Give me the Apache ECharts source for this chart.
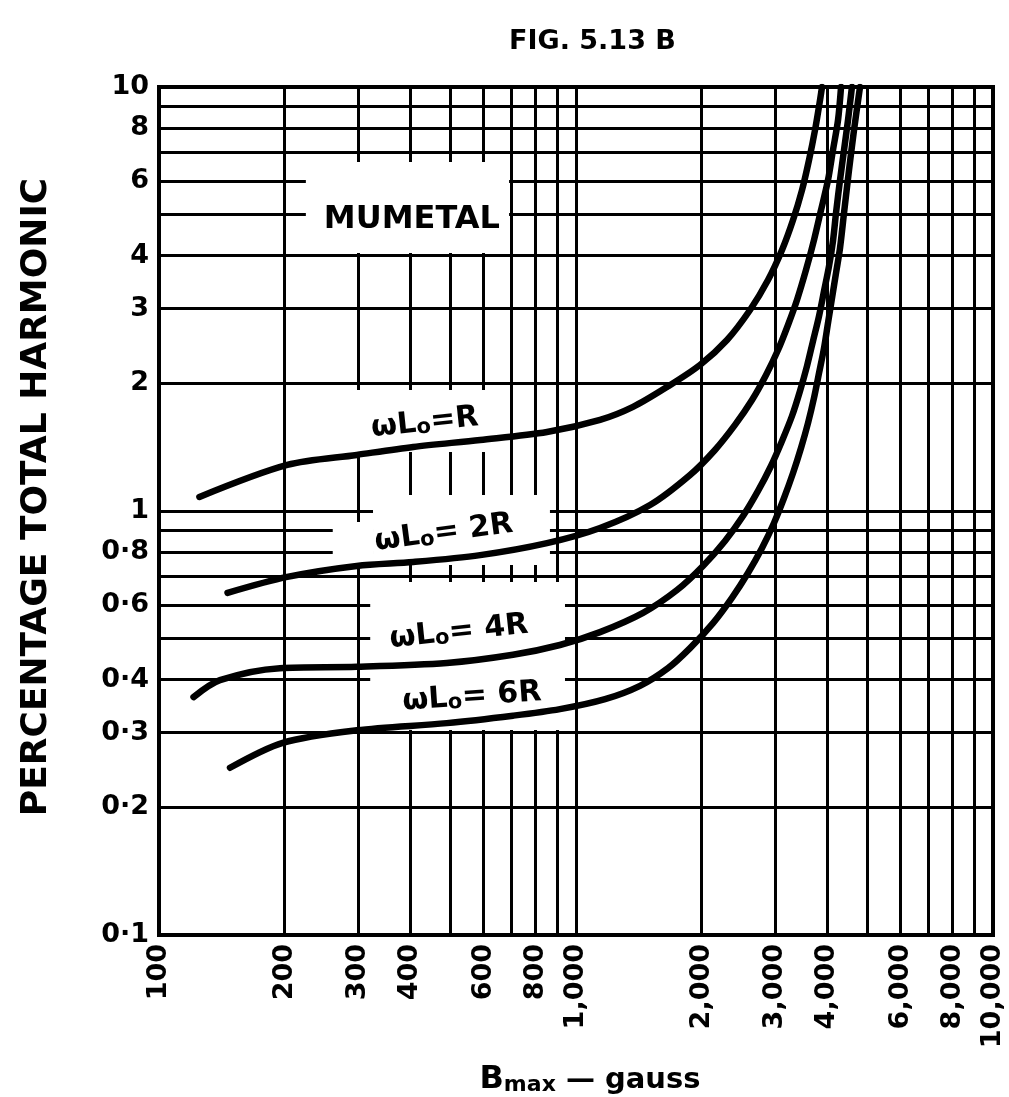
<!DOCTYPE html>
<html>
<head>
<meta charset="utf-8">
<script src="https://cdn.jsdelivr.net/npm/echarts@6/dist/echarts.min.js"></script>
<style>
html,body{margin:0;padding:0;background:#fff;}
#chart{width:1009px;height:1097px;}
</style>
</head>
<body>
<div id="chart"></div>
<script>
// ---------------- data ----------------
const gaussTicks = [100,200,300,400,500,600,700,800,900,1000,2000,3000,4000,5000,6000,7000,8000,9000,10000];
const gaussLabels = [100,200,300,400,600,800,1000,2000,3000,4000,6000,8000,10000];
const pctTicks = [0.1,0.2,0.3,0.4,0.5,0.6,0.7,0.8,0.9,1,2,3,4,5,6,7,8,9,10];
const pctLabels = [0.1,0.2,0.3,0.4,0.6,0.8,1,2,3,4,6,8,10];

const curveNames = ['ωLo=R','ωLo=2R','ωLo=4R','ωLo=6R'];

const gaussR  = [125, 203, 298, 407, 589, 852, 1142, 1370, 1653, 1983, 2302, 2614, 2887, 3119, 3315, 3484, 3621, 3743, 3848, 3890];
const pctR    = [1.079, 1.284, 1.356, 1.416, 1.471, 1.536, 1.640, 1.760, 1.961, 2.210, 2.531, 2.979, 3.506, 4.127, 4.857, 5.716, 6.728, 7.918, 9.318, 10];

const gauss2R = [146, 203, 298, 407, 589, 852, 1142, 1505, 1877, 2154, 2406, 2643, 2856, 3051, 3224, 3388, 3561, 3722, 3869, 4021, 4133, 4250, 4321];
const pct2R   = [0.641, 0.699, 0.742, 0.758, 0.787, 0.840, 0.912, 1.033, 1.216, 1.393, 1.596, 1.827, 2.093, 2.397, 2.746, 3.145, 3.702, 4.357, 5.127, 6.035, 7.103, 8.359, 10];

const gauss4R = [121, 140, 195, 298, 490, 706, 915, 1142, 1448, 1747, 2016, 2277, 2515, 2732, 2935, 3119, 3296, 3445, 3581, 3702, 3827, 3934, 4044, 4133, 4203, 4297, 4393, 4491, 4589];
const pct4R   = [0.364, 0.399, 0.426, 0.429, 0.438, 0.458, 0.483, 0.518, 0.575, 0.651, 0.742, 0.850, 0.973, 1.115, 1.277, 1.463, 1.675, 1.919, 2.198, 2.518, 2.884, 3.303, 3.783, 4.334, 5.045, 6.035, 7.103, 8.359, 10];

const gauss6R = [148, 198, 298, 490, 706, 915, 1174, 1424, 1662, 1877, 2131, 2366, 2585, 2793, 2984, 3154, 3315, 3464, 3601, 3722, 3827, 3934, 4021, 4111, 4203, 4297, 4393, 4516, 4642, 4798];
const pct6R   = [0.248, 0.284, 0.304, 0.316, 0.329, 0.341, 0.360, 0.387, 0.426, 0.475, 0.544, 0.624, 0.714, 0.818, 0.937, 1.073, 1.229, 1.408, 1.613, 1.848, 2.116, 2.424, 2.777, 3.179, 3.642, 4.172, 5.045, 6.372, 7.918, 10];

const curveGauss = [gaussR, gauss2R, gauss4R, gauss6R];
const curvePct = [pctR, pct2R, pct4R, pct6R];

// ---------------- layout / style ----------------
const FONT = 'DejaVu Sans';
const INK = '#000';

const fmtGauss = v => String(Math.round(v)).replace(/\B(?=(\d{3})+(?!\d))/g, ',');
const fmtPct = v => v < 1 ? '0·' + Math.round(v * 10) : String(Math.round(v));

const chart = echarts.init(document.getElementById('chart'), null, {renderer: 'canvas'});

const option = {
  animation: false,
  backgroundColor: '#fff',
  title: {
    text: 'FIG. 5.13 B', left: 509, top: 28, padding: 0,
    textStyle: {fontFamily: FONT, fontWeight: 'bold', fontSize: 27, color: INK}
  },
  grid: {left: 159, right: 16, top: 87, bottom: 162, show: true,
         borderColor: INK, borderWidth: 4, backgroundColor: '#fff'},
  xAxis: {
    type: 'log', logBase: 10, min: 100, max: 10000,
    axisLine: {show: false},
    axisTick: {show: false, customValues: gaussTicks},
    axisLabel: {customValues: gaussLabels, rotate: 90, margin: 9, formatter: fmtGauss,
                fontFamily: FONT, fontWeight: 'bold', fontSize: 27, color: INK},
    splitLine: {show: true, lineStyle: {color: INK, width: 3}},
    minorTick: {show: false}, minorSplitLine: {show: false}
  },
  yAxis: {
    type: 'log', logBase: 10, min: 0.1, max: 10,
    axisLine: {show: false},
    axisTick: {show: false, customValues: pctTicks},
    axisLabel: {customValues: pctLabels, margin: 10, formatter: fmtPct,
                fontFamily: FONT, fontWeight: 'bold', fontSize: 27, color: INK},
    splitLine: {show: true, lineStyle: {color: INK, width: 3}},
    minorTick: {show: false}, minorSplitLine: {show: false}
  },
  series: curveNames.map((name, k) => ({
    type: 'line', name: name,
    data: curveGauss[k].map((g, i) => [g, curvePct[k][i]]),
    symbol: 'none', showSymbol: false, smooth: 0.3, clip: true, silent: true, z: 3,
    lineStyle: {color: INK, width: 6.5, cap: 'round', join: 'round'}
  }))
};
chart.setOption(option);

// blank patches of the printed grid paper (in data units: gauss x0,x1 ; percent y0,y1)
const paperGaps = [
  [225, 691, 4.06, 6.65],
  [272, 657, 1.378, 1.93],
  [326, 866, 0.746, 1.091],
  [261, 326, 0.746, 0.942],
  [321, 941, 0.3044, 0.680]
];
// curve annotations anchored in data units
const annotations = [
  {text: 'MUMETAL', at: [404, 4.86], rot: 0, size: 32},
  {text: 'ωL{s|o}=R', at: [434, 1.613], rot: 6, size: 30},
  {text: 'ωL{s|o}= 2R', at: [482, 0.887], rot: 7.5, size: 30},
  {text: 'ωL{s|o}= 4R', at: [524, 0.518], rot: 6, size: 30},
  {text: 'ωL{s|o}= 6R', at: [563, 0.364], rot: 4, size: 30}
];

const toPx = p => chart.convertToPixel({gridIndex: 0}, p);
const graphics = [];
paperGaps.forEach(g => {
  const a = toPx([g[0], g[3]]);
  const b = toPx([g[1], g[2]]);
  graphics.push({type: 'rect', silent: true, z: 1,
    shape: {x: a[0], y: a[1], width: b[0] - a[0], height: b[1] - a[1]},
    style: {fill: '#fff'}});
});
annotations.forEach(an => {
  const p = toPx(an.at);
  graphics.push({type: 'text', silent: true, z: 4, x: p[0], y: p[1], rotation: an.rot * Math.PI / 180,
    style: {text: an.text, fontFamily: FONT, fontWeight: 'bold', fontSize: an.size, fill: INK,
      align: 'center', verticalAlign: 'middle',
      rich: {s: {fontFamily: FONT, fontWeight: 'bold', fontSize: 21, fill: INK, verticalAlign: 'bottom', lineHeight: 14}}}});
});
// axis names
graphics.push({type: 'text', silent: true, z: 4, x: 37, y: 497, rotation: Math.PI / 2,
  style: {text: 'PERCENTAGE TOTAL HARMONIC', fontFamily: FONT, fontWeight: 'bold', fontSize: 36, fill: INK,
    align: 'center', verticalAlign: 'middle'}});
graphics.push({type: 'text', silent: true, z: 4, x: 590, y: 1080,
  style: {text: '{b|B}{s|max}{g| — gauss}', align: 'center', verticalAlign: 'middle',
    fontFamily: FONT, fontWeight: 'bold', fontSize: 30, fill: INK,
    rich: {
      b: {fontFamily: FONT, fontWeight: 'bold', fontSize: 32, fill: INK, lineHeight: 32},
      s: {fontFamily: FONT, fontWeight: 'bold', fontSize: 22, fill: INK, verticalAlign: 'bottom', lineHeight: 18},
      g: {fontFamily: FONT, fontWeight: 'bold', fontSize: 29, fill: INK, lineHeight: 32}
    }}});
chart.setOption({graphic: graphics});
</script>
</body>
</html>
